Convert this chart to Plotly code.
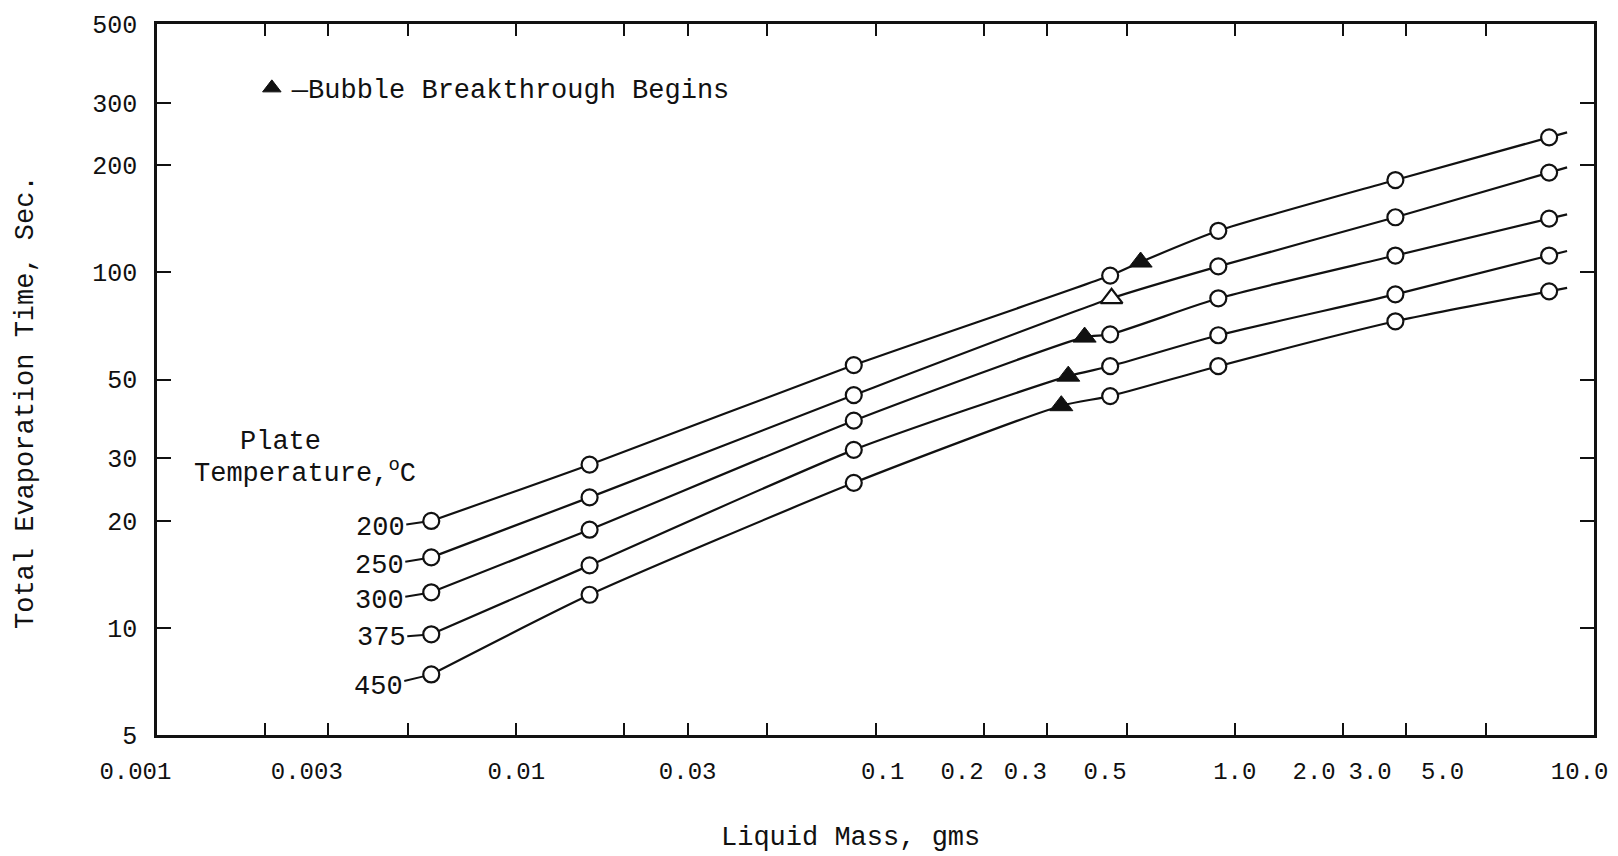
import numpy as np
import plotly.graph_objects as go

# ---------------- data ----------------
mass = [0.0058, 0.016, 0.087, 0.45, 0.90, 2.8, 7.5]          # Liquid mass, gms
temps = ["200", "250", "300", "375", "450"]                   # Plate temperature, C
t200 = [20.0, 28.8, 54.9, 98.0, 131.0, 182.0, 240.0]
t250 = [15.8, 23.3, 45.2, None, 104.0, 143.0, 191.0]
t300 = [12.6, 18.9, 38.3, 67.0, 84.6, 111.6, 141.7]
t375 = [9.6, 15.0, 31.7, 54.5, 66.6, 86.8, 111.6]
t450 = [7.4, 12.4, 25.6, 44.9, 54.5, 72.9, 88.5]
times = [t200, t250, t300, t375, t450]

# bubble breakthrough begins (triangles)
bb_mass = [0.547, 0.454, 0.382, 0.344, 0.329]
bb_time = [107.0, 84.6, 65.8, 51.1, 42.2]
bb_filled = [True, False, True, True, True]

# axis ticks
x_tickvals = [0.001, 0.002, 0.003, 0.005, 0.01, 0.02, 0.03, 0.05, 0.1, 0.2, 0.3, 0.5, 1, 2, 3, 5, 10]
x_ticktext = ["0.001", "", "0.003", "", "0.01", "", "0.03", "", "0.1", "0.2", "0.3", "0.5",
              "1.0", "2.0", "3.0", "5.0", "10.0"]
# label nudges (in character widths; negative = left) to mimic the hand-lettered placement
x_label_nudge = [-3, 0, -3, 0, 0, 0, 0, 0, 1, -3, -3, -3, 0, -4, -5, -6, -2]
x_long = [0.01, 0.1, 1.0]
y_tickvals = [5, 10, 20, 30, 50, 100, 200, 300, 500]
y_ticktext = ["5", "10", "20", "30", "50", "100", "200", "300", "500"]
y_long = [10, 100]

# label offsets (pixels) of the temperature labels relative to the first point
label_off = [(-51, 7), (-52, 9), (-52, 9), (-50, 4), (-53, 13)]

FONT = "Liberation Mono, Courier New, monospace"
BLACK = "#111111"
NB = "\u00a0"

# page body has an 8px default margin: plot area placed at x 157..1594, y 24..735 of the page
W, H = 1610, 848
L, T, R, B = 149, 16, 24, 121
PX0, PY0, PW, PH = 157, 24, 1437, 711


def px(xp):
    return (xp - PX0) / PW


def py(yp):
    return (PY0 + PH - yp) / PH


def nudge(txt, n):
    if not txt or n == 0:
        return txt
    return txt + NB * (-n) if n < 0 else NB * n + txt


x_ticktext_shown = [nudge(t, n) for t, n in zip(x_ticktext, x_label_nudge)]

fig = go.Figure()

# curves
for t, bx, by in zip(times, bb_mass, bb_time):
    pts = [(m, v) for m, v in zip(mass, t) if v is not None] + [(bx, by)]
    pts.sort()
    xs = [p[0] for p in pts]
    ys = [p[1] for p in pts]
    fig.add_trace(go.Scatter(x=xs, y=ys, mode="lines", line=dict(color=BLACK, width=2.2, shape="spline", smoothing=0.6),
                             showlegend=False, hoverinfo="skip"))
    # short tail beyond the last point, continuing the last segment
    lx0, lx1 = np.log10(xs[-2]), np.log10(xs[-1])
    ly0, ly1 = np.log10(ys[-2]), np.log10(ys[-1])
    slope = (ly1 - ly0) / (lx1 - lx0)
    d = 0.05
    fig.add_trace(go.Scatter(x=[xs[-1], 10 ** (lx1 + d)], y=[ys[-1], 10 ** (ly1 + slope * d)], mode="lines",
                             line=dict(color=BLACK, width=2.2), showlegend=False, hoverinfo="skip"))

# circles
for name, t in zip(temps, times):
    fig.add_trace(go.Scatter(x=mass, y=t, mode="markers", name=name + " °C",
                             marker=dict(symbol="circle", size=16, color="white", line=dict(color=BLACK, width=2.2)),
                             showlegend=False))

# triangles
filled_x = [m for m, f in zip(bb_mass, bb_filled) if f]
filled_y = [v for v, f in zip(bb_time, bb_filled) if f]
open_x = [m for m, f in zip(bb_mass, bb_filled) if not f]
open_y = [v for v, f in zip(bb_time, bb_filled) if not f]
fig.add_trace(go.Scatter(x=open_x, y=open_y, mode="markers", showlegend=False,
                         marker=dict(symbol="triangle-up", size=19, color="white", line=dict(color=BLACK, width=2.2))))
fig.add_trace(go.Scatter(x=filled_x, y=filled_y, mode="markers", name="—Bubble Breakthrough Begins",
                         marker=dict(symbol="triangle-up", size=20, color=BLACK, line=dict(color=BLACK, width=1)),
                         showlegend=True))

# temperature labels with leader lines
for name, t, (ax, ay) in zip(temps, times, label_off):
    fig.add_annotation(x=np.log10(mass[0]), y=np.log10(t[0]), xref="x", yref="y", text=name,
                       showarrow=True, arrowhead=0, arrowwidth=2, arrowcolor=BLACK, ax=ax, ay=ay,
                       standoff=8, font=dict(family=FONT, size=27, color=BLACK))

fig.add_annotation(x=px(280), y=py(442), xref="paper", yref="paper", text="Plate", xanchor="center",
                   yanchor="middle", showarrow=False, font=dict(family=FONT, size=27, color=BLACK))
fig.add_annotation(x=px(305), y=py(472), xref="paper", yref="paper", xanchor="center", yanchor="middle",
                   text="Temperature,<sup>o</sup>C", showarrow=False, font=dict(family=FONT, size=27, color=BLACK))

# axis titles
fig.add_annotation(x=px(850), y=py(838), xref="paper", yref="paper", text="Liquid Mass, gms",
                   xanchor="center", yanchor="middle", showarrow=False, font=dict(family=FONT, size=27, color=BLACK))
fig.add_annotation(x=px(26), y=py(402), xref="paper", yref="paper", xanchor="center", yanchor="middle",
                   text="Total Evaporation Time, Sec.", textangle=-90, showarrow=False,
                   font=dict(family=FONT, size=27, color=BLACK))

xr = [-3, 1]
yr = [np.log10(5), np.log10(500)]
fig.update_layout(
    width=W, height=H,
    margin=dict(l=L, r=R, t=T, b=B, autoexpand=False),
    paper_bgcolor="white", plot_bgcolor="white",
    font=dict(family=FONT, size=24, color=BLACK),
    xaxis=dict(type="log", range=xr, tickvals=x_tickvals, ticktext=x_ticktext_shown, ticks="inside", ticklen=12,
               tickwidth=2, tickcolor=BLACK, showline=True, linewidth=2.5, linecolor=BLACK, mirror="ticks",
               showgrid=False, zeroline=False, ticklabelstandoff=12, ticklabeloverflow="allow", tickangle=0,
               tickfont=dict(family=FONT, size=24)),
    yaxis=dict(type="log", range=yr, tickvals=y_tickvals, ticktext=y_ticktext, ticks="inside", ticklen=14,
               tickwidth=2, tickcolor=BLACK, showline=True, linewidth=2.5, linecolor=BLACK, mirror="ticks",
               showgrid=False, zeroline=False, ticklabelstandoff=12, ticklabeloverflow="allow",
               tickfont=dict(family=FONT, size=25)),
    xaxis2=dict(type="log", range=xr, overlaying="x", anchor="y", side="bottom", tickvals=x_long,
                ticks="inside", ticklen=25, tickwidth=2, tickcolor=BLACK, showticklabels=False,
                showline=False, mirror="ticks", showgrid=False, zeroline=False),
    yaxis2=dict(type="log", range=yr, overlaying="y", anchor="x", side="left", tickvals=y_long,
                ticks="inside", ticklen=25, tickwidth=2, tickcolor=BLACK, showticklabels=False,
                showline=False, mirror="ticks", showgrid=False, zeroline=False),
    legend=dict(x=0.066, y=0.944, xanchor="left", yanchor="top", bgcolor="rgba(0,0,0,0)",
                font=dict(family=FONT, size=27, color=BLACK), itemwidth=30, tracegroupgap=0),
    showlegend=True,
)

fig.write_html("out.html")
